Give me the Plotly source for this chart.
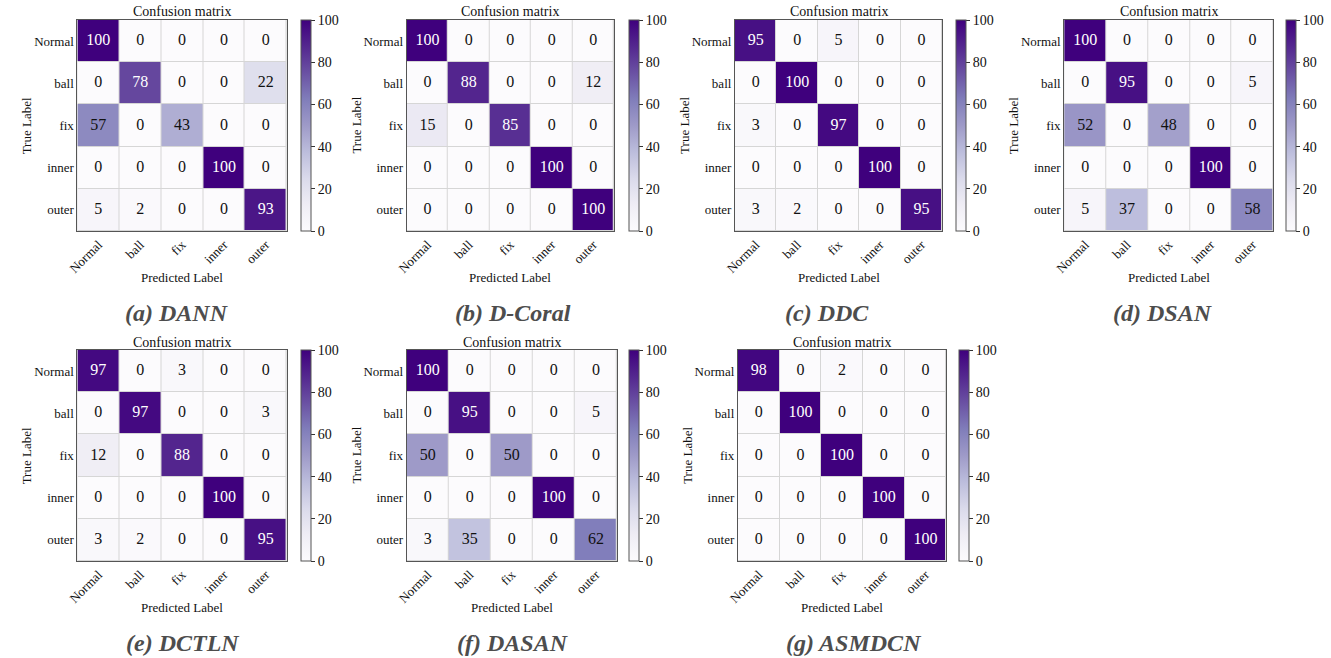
import plotly.graph_objects as go

labels = ["Normal", "ball", "fix", "inner", "outer"]
model_names = ["(a) DANN", "(b) D-Coral", "(c) DDC", "(d) DSAN",
               "(e) DCTLN", "(f) DASAN", "(g) ASMDCN"]

cm_dann = [[100, 0, 0, 0, 0], [0, 78, 0, 0, 22], [57, 0, 43, 0, 0],
           [0, 0, 0, 100, 0], [5, 2, 0, 0, 93]]
cm_dcoral = [[100, 0, 0, 0, 0], [0, 88, 0, 0, 12], [15, 0, 85, 0, 0],
             [0, 0, 0, 100, 0], [0, 0, 0, 0, 100]]
cm_ddc = [[95, 0, 5, 0, 0], [0, 100, 0, 0, 0], [3, 0, 97, 0, 0],
          [0, 0, 0, 100, 0], [3, 2, 0, 0, 95]]
cm_dsan = [[100, 0, 0, 0, 0], [0, 95, 0, 0, 5], [52, 0, 48, 0, 0],
           [0, 0, 0, 100, 0], [5, 37, 0, 0, 58]]
cm_dctln = [[97, 0, 3, 0, 0], [0, 97, 0, 0, 3], [12, 0, 88, 0, 0],
            [0, 0, 0, 100, 0], [3, 2, 0, 0, 95]]
cm_dasan = [[100, 0, 0, 0, 0], [0, 95, 0, 0, 5], [50, 0, 50, 0, 0],
            [0, 0, 0, 100, 0], [3, 35, 0, 0, 62]]
cm_asmdcn = [[98, 0, 2, 0, 0], [0, 100, 0, 0, 0], [0, 0, 100, 0, 0],
             [0, 0, 0, 100, 0], [0, 0, 0, 0, 100]]

matrices = [cm_dann, cm_dcoral, cm_ddc, cm_dsan, cm_dctln, cm_dasan, cm_asmdcn]
cbar_ticks = [0, 20, 40, 60, 80, 100]

# layout (pixels): heatmap x0, x1, y0, y1, colorbar left, caption center x
W, H = 1331, 658
panels = [
    (67, 278, 20, 231, 292, 167),
    (399, 608, 20, 231, 623, 506),
    (730, 939, 20, 231, 953, 823),
    (1062, 1273, 20, 231, 1286, 1162),
    (67, 278, 350, 561, 292, 173),
    (399, 611, 350, 561, 623, 506),
    (733, 943, 350, 561, 956, 850),
]

SERIF = "Liberation Serif, Times New Roman, serif"
fig = go.Figure()
annotations = []
layout_axes = {}

for i, (cm, name, (x0, x1, y0, y1, cbx, capx)) in enumerate(zip(matrices, model_names, panels)):
    n = "" if i == 0 else str(i + 1)
    xref, yref = "x" + n, "y" + n
    cy = (y0 + y1) / 2
    fig.add_trace(go.Heatmap(
        z=cm, x=list(range(5)), y=list(range(5)),
        colorscale="Purples", zmin=0, zmax=100, xgap=1, ygap=1,
        xaxis=xref, yaxis=yref, hoverinfo="skip",
        colorbar=dict(
            x=cbx / W, xanchor="left", y=1 - cy / H, yanchor="middle",
            len=y1 - y0, lenmode="pixels", thickness=10,
            outlinewidth=1, outlinecolor="#555555", xpad=0, ypad=0,
            tickvals=cbar_ticks, ticks="outside", ticklen=4, tickcolor="#333333",
            tickfont=dict(family=SERIF, size=14, color="#111111"),
        ),
    ))
    xs, ys, txt, cols = [], [], [], []
    for r in range(5):
        for c in range(5):
            xs.append(c)
            ys.append(r)
            txt.append(str(cm[r][c]))
            cols.append("white" if cm[r][c] > 66 else "#111111")
    fig.add_trace(go.Scatter(
        x=xs, y=ys, text=txt, mode="text", xaxis=xref, yaxis=yref,
        textfont=dict(family=SERIF, size=16, color=cols),
        showlegend=False, hoverinfo="skip",
    ))
    layout_axes["xaxis" + n] = dict(
        domain=[x0 / W, x1 / W], anchor=yref, range=[-0.5, 4.5],
        tickvals=list(range(5)), ticktext=labels, tickangle=-45,
        showgrid=False, zeroline=False, showline=True, mirror=True,
        linecolor="#555555", linewidth=1, ticks="",
        tickfont=dict(family=SERIF, size=13, color="#111111"), fixedrange=True,
    )
    layout_axes["yaxis" + n] = dict(
        domain=[1 - y1 / H, 1 - y0 / H], anchor=xref, range=[4.5, -0.5],
        tickvals=list(range(5)), ticktext=labels,
        showgrid=False, zeroline=False, showline=True, mirror=True,
        linecolor="#555555", linewidth=1, ticks="",
        tickfont=dict(family=SERIF, size=13, color="#111111"), fixedrange=True,
    )
    cx = (x0 + x1) / 2
    annotations += [
        dict(text="Confusion matrix", x=cx / W, y=1 - (y0 - 8) / H, xref="paper", yref="paper",
             showarrow=False, xanchor="center", yanchor="middle",
             font=dict(family=SERIF, size=14, color="#111111")),
        dict(text="True Label", x=(x0 - 51) / W, y=1 - cy / H, xref="paper", yref="paper",
             showarrow=False, xanchor="center", yanchor="middle", textangle=-90,
             font=dict(family=SERIF, size=13, color="#111111")),
        dict(text="Predicted Label", x=cx / W, y=1 - (y1 + 46) / H, xref="paper", yref="paper",
             showarrow=False, xanchor="center", yanchor="middle",
             font=dict(family=SERIF, size=13, color="#111111")),
        dict(text="<b><i>" + name + "</i></b>", x=capx / W, y=1 - (y1 + 82) / H,
             xref="paper", yref="paper", showarrow=False, xanchor="center", yanchor="middle",
             font=dict(family=SERIF, size=24, color="#4d4d4d")),
    ]

fig.update_layout(
    width=W, height=H, margin=dict(l=0, r=0, t=0, b=0),
    paper_bgcolor="white", plot_bgcolor="#d6d6d6",
    showlegend=False, annotations=annotations, **layout_axes,
)
fig.write_html("out.html", config={"displayModeBar": False},
               post_script="document.body.style.margin='0';document.body.style.overflow='hidden';")
